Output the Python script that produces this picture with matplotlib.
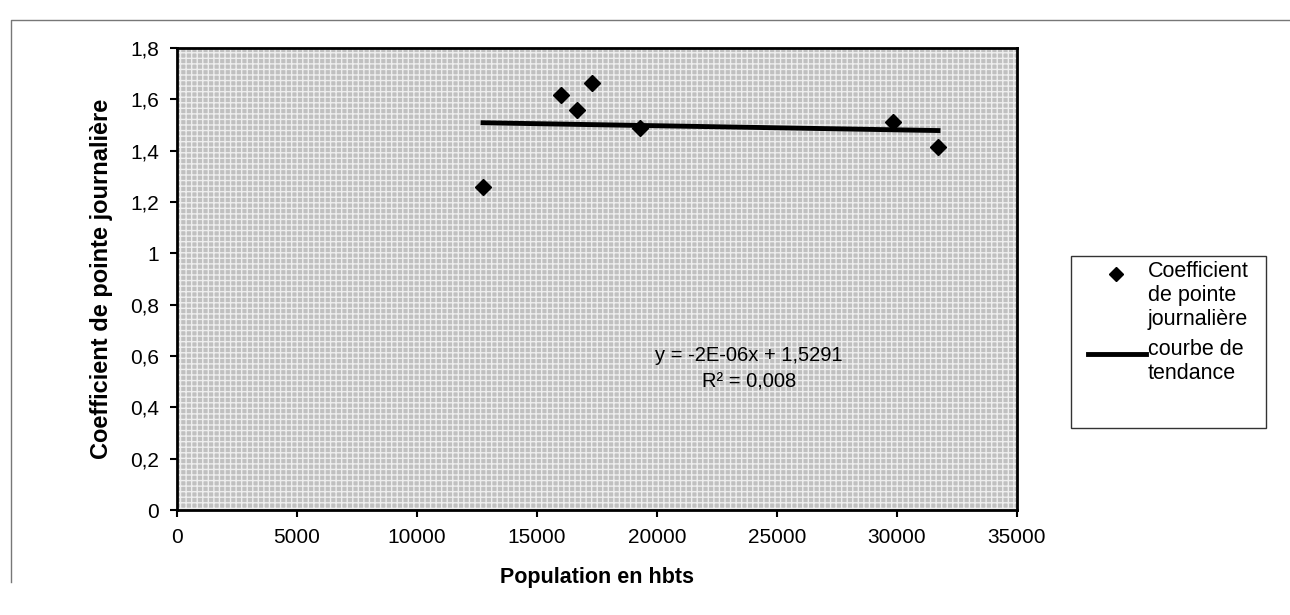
import numpy as np
import matplotlib.pyplot as plt
from matplotlib.lines import Line2D
from matplotlib.patches import Rectangle
from matplotlib.ticker import FuncFormatter, MultipleLocator

plt.rcParams['font.family'] = ['Liberation Sans', 'DejaVu Sans']

# Population (habitants) et coefficient de pointe journalière
population = [12750, 16000, 16670, 17290, 19290, 29830, 31710]
coef_pointe = [1.258, 1.617, 1.559, 1.664, 1.488, 1.512, 1.414]

# Courbe de tendance linéaire (Excel)
pente = -1.6e-06
ordonnee = 1.5291
r2 = 0.008


def virgule(v, pos=None):
    return ('%g' % v).replace('.', ',')


fig = plt.figure(figsize=(12.9, 6.15), dpi=100)
ax = fig.add_axes([177 / 1290, 105 / 615, 840 / 1290, 462 / 615])

# fond gris tramé
ax.set_facecolor('#c0c0c0')
ax.add_patch(Rectangle((0, 0), 1, 1, transform=ax.transAxes, facecolor='none',
                       edgecolor='#eeeeee', hatch='+++', linewidth=0, zorder=0.5))

ax.plot(population, coef_pointe, 'D', color='black', markersize=8.5, zorder=3)

x_tend = np.array([min(population), max(population)])
ax.plot(x_tend, pente * x_tend + ordonnee, color='black', linewidth=3.5, zorder=2)

eq = 'y = %sx + %s' % ('%.0E' % pente, virgule(ordonnee))
ax.text(0.681, 0.306, eq + '\nR² = ' + virgule(r2), transform=ax.transAxes,
        ha='center', va='center', fontsize=14.5, linespacing=1.55)

ax.set_xlim(0, 35000)
ax.set_ylim(0, 1.8)
ax.xaxis.set_major_locator(MultipleLocator(5000))
ax.yaxis.set_major_locator(MultipleLocator(0.2))
ax.yaxis.set_major_formatter(FuncFormatter(virgule))
ax.tick_params(direction='out', length=5, width=1.5, labelsize=15, pad=8)
for s in ax.spines.values():
    s.set_linewidth(2)

ax.set_xlabel('Population en hbts', fontsize=15.5, fontweight='bold', labelpad=14)
ax.set_ylabel('Coefficient de pointe journalière', fontsize=17, fontweight='bold',
              labelpad=12)

# cadre du graphique (bords haut et gauche seulement)
fig.add_artist(Line2D([11 / 1290, 11 / 1290, 1290 / 1290],
                      [1 - 582 / 615, 1 - 20 / 615, 1 - 20 / 615],
                      color='#777777', linewidth=1, transform=fig.transFigure))

# légende
fig.add_artist(Rectangle((1071 / 1290, 187 / 615), 195 / 1290, 172 / 615,
                         transform=fig.transFigure, facecolor='white',
                         edgecolor='#333333', linewidth=1))
fig.add_artist(Line2D([1116 / 1290], [1 - 274 / 615], marker='D', color='black',
                      markersize=7, transform=fig.transFigure))
fig.add_artist(Line2D([1088 / 1290, 1146 / 1290], [1 - 354 / 615] * 2, color='black',
                      linewidth=3.5, transform=fig.transFigure))
fig.text(1148 / 1290, 1 - 261 / 615, 'Coefficient\nde pointe\njournalière',
         fontsize=15.5, va='top', linespacing=1.2)
fig.text(1148 / 1290, 1 - 339 / 615, 'courbe de\ntendance',
         fontsize=15.5, va='top', linespacing=1.2)

fig.savefig('out.png', dpi=100)
